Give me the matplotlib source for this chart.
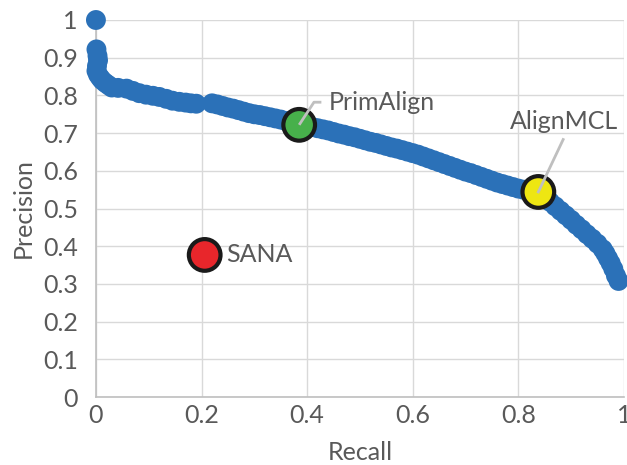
import matplotlib
matplotlib.use("Agg")
import matplotlib.pyplot as plt
import matplotlib.ticker as plticker

plt.rcParams['font.family'] = ['Lato', 'DejaVu Sans']

# precision/recall curve points (head of the curve near recall = 0, then the long tail)
recall = [0.0, 0.001, 0.003, 0.004, 0.002, 0.001, 0.004, 0.008, 0.012, 0.018,
          0.024, 0.030, 0.042, 0.058, 0.070, 0.082, 0.095, 0.108, 0.120, 0.133,
          0.145, 0.158, 0.170, 0.180, 0.190,
          0.22, 0.23, 0.24, 0.25, 0.26, 0.27, 0.28, 0.29, 0.30, 0.31,
          0.32, 0.33, 0.34, 0.35, 0.36, 0.37, 0.38, 0.39, 0.40, 0.41,
          0.42, 0.43, 0.44, 0.45, 0.46, 0.47, 0.48, 0.49, 0.50, 0.51,
          0.52, 0.53, 0.54, 0.55, 0.56, 0.57, 0.58, 0.59, 0.60, 0.61,
          0.62, 0.63, 0.64, 0.65, 0.66, 0.67, 0.68, 0.69, 0.70, 0.71,
          0.72, 0.73, 0.74, 0.75, 0.76, 0.77, 0.78, 0.79, 0.80, 0.81,
          0.82, 0.83, 0.84, 0.85, 0.86, 0.87, 0.88, 0.89, 0.90, 0.91,
          0.92, 0.93, 0.94, 0.95, 0.96, 0.965, 0.97, 0.975, 0.98, 0.985, 0.99]
precision = [1.0, 0.922, 0.905, 0.893, 0.878, 0.865, 0.855, 0.847, 0.840, 0.833,
             0.827, 0.821, 0.820, 0.818, 0.812, 0.806, 0.802, 0.799, 0.796, 0.791,
             0.786, 0.783, 0.781, 0.779, 0.778,
             0.779, 0.776, 0.772, 0.768, 0.765, 0.761, 0.757, 0.753, 0.750, 0.748,
             0.745, 0.742, 0.739, 0.736, 0.732, 0.729, 0.726, 0.723, 0.719, 0.716,
             0.713, 0.710, 0.707, 0.703, 0.699, 0.696, 0.692, 0.689, 0.685, 0.681,
             0.677, 0.674, 0.670, 0.666, 0.662, 0.659, 0.655, 0.651, 0.647, 0.643,
             0.638, 0.633, 0.628, 0.623, 0.618, 0.613, 0.608, 0.603, 0.598, 0.594,
             0.589, 0.584, 0.579, 0.574, 0.569, 0.565, 0.561, 0.557, 0.553, 0.550,
             0.547, 0.544, 0.540, 0.530, 0.518, 0.506, 0.494, 0.482, 0.470, 0.457,
             0.445, 0.432, 0.420, 0.407, 0.392, 0.381, 0.368, 0.355, 0.340, 0.322, 0.308]

# individual methods
methods = ['SANA', 'PrimAlign', 'AlignMCL']
method_recall = [0.206, 0.385, 0.838]
method_precision = [0.377, 0.722, 0.544]
method_colors = ['#E8262B', '#47B04B', '#EEE612']

fig = plt.figure(figsize=(6.27, 4.65), dpi=100)
ax = fig.add_axes([0.153, 0.146, 0.842, 0.811])

ax.scatter(recall, precision, s=205, color='#2B71B8', edgecolors='none', zorder=3, clip_on=False)
ax.scatter(method_recall, method_precision, s=520, c=method_colors,
           edgecolors='#1A1A1A', linewidths=3, zorder=4, clip_on=False)

txt = '#595959'
lead = '#BFBFBF'
fs = 18

# SANA: plain label to the right
ax.text(method_recall[0] + 0.04, method_precision[0], methods[0], fontsize=fs,
        color=txt, va='center', ha='left', zorder=5)

# PrimAlign: elbow leader line up and to the right
ax.plot([method_recall[1], 0.413, 0.427], [method_precision[1], 0.782, 0.782],
        color=lead, lw=2, zorder=5, solid_capstyle='butt')
ax.text(0.441, 0.780, methods[1], fontsize=fs, color=txt,
        va='center', ha='left', zorder=5)

# AlignMCL: straight leader line up to the label
ax.plot([method_recall[2], 0.885], [method_precision[2], 0.683],
        color=lead, lw=2, zorder=5)
ax.text(0.886, 0.730, methods[2], fontsize=fs, color=txt,
        va='center', ha='center', zorder=5)

ax.set_xlim(0, 1)
ax.set_ylim(0, 1)
ax.xaxis.set_major_locator(plticker.MultipleLocator(0.2))
ax.yaxis.set_major_locator(plticker.MultipleLocator(0.1))
fmt = plticker.FuncFormatter(lambda v, p: '%g' % round(v, 2))
ax.xaxis.set_major_formatter(fmt)
ax.yaxis.set_major_formatter(fmt)

ax.grid(True, color='#D9D9D9', lw=1)
ax.set_axisbelow(True)
for side in ['top', 'right']:
    ax.spines[side].set_visible(False)
for side in ['left', 'bottom']:
    ax.spines[side].set_color('#BFBFBF')
    ax.spines[side].set_linewidth(1.2)
ax.tick_params(axis='x', length=0, pad=5, labelsize=fs, labelcolor=txt)
ax.tick_params(axis='y', length=0, pad=13, labelsize=fs, labelcolor=txt)

ax.set_xlabel('Recall', fontsize=fs, color=txt, labelpad=10)
ax.set_ylabel('Precision', fontsize=fs, color=txt, labelpad=6)

fig.savefig('out.png', dpi=100)
